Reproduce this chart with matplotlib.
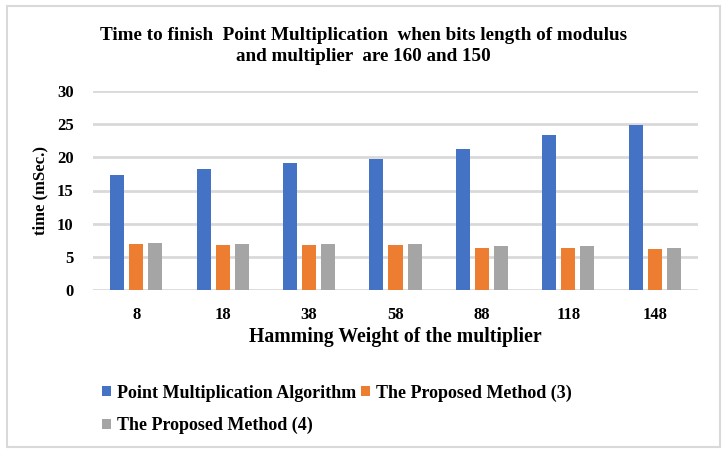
import matplotlib.pyplot as plt
import numpy as np
from matplotlib.patches import Rectangle

plt.rcParams['font.family'] = ['Liberation Serif', 'DejaVu Serif']
plt.rcParams['font.weight'] = 'bold'

# 数据
hamming = ['8', '18', '38', '58', '88', '118', '148']
point_mul = [17.3, 18.3, 19.1, 19.7, 21.3, 23.3, 24.8]
method3 = [7.0, 6.8, 6.8, 6.8, 6.4, 6.3, 6.2]
method4 = [7.1, 7.0, 7.0, 7.0, 6.7, 6.7, 6.3]
series_names = ['Point Multiplication Algorithm', 'The Proposed Method (3)', 'The Proposed Method (4)']
colors = ['#4472C4', '#ED7D31', '#A5A5A5']

fig = plt.figure(figsize=(7.28, 4.55), dpi=100)
ax = fig.add_axes([93 / 728, 1 - 290 / 455, (698 - 93) / 728, (290 - 91) / 455])

# 外框
fig.patches.append(Rectangle((7 / 728, 1 - 447 / 455), 713 / 728, 441 / 455,
                             transform=fig.transFigure, fill=False,
                             edgecolor='#D9D9D9', linewidth=1.5))

x = np.arange(len(hamming))
w = 0.162
step = 0.22
for i, (vals, name, c) in enumerate(zip([point_mul, method3, method4], series_names, colors)):
    ax.bar(x + (i - 1) * step, vals, width=w, color=c, label=name, zorder=3)

ax.set_ylim(0, 30)
ax.set_xlim(-0.5, len(hamming) - 0.5)
ax.set_yticks(np.arange(0, 31, 5))
ax.set_xticks(x)
ax.set_xticklabels(hamming)
ax.yaxis.grid(True, color='#D9D9D9', linewidth=2, zorder=0)
for s in ax.spines.values():
    s.set_visible(False)
ax.tick_params(length=0, labelsize=12)
ax.tick_params(axis='x', pad=12)
ax.tick_params(axis='y', pad=14)

ax.set_ylabel('time (mSec.)', fontsize=12, fontweight='bold', labelpad=6)
ax.set_xlabel('Hamming Weight of the multiplier', fontsize=14.2, fontweight='bold', labelpad=3)

fig.text(0.499, 1 - 46 / 455, 'Time to finish  Point Multiplication  when bits length of modulus\nand multiplier  are 160 and 150',
         ha='center', va='center', fontsize=13.8, fontweight='bold', linespacing=1.35)

# 图例按行排列
handles, labels = ax.get_legend_handles_labels()
order = [0, 2, 1]
fig.legend([handles[k] for k in order], [labels[k] for k in order], loc='upper left',
           bbox_to_anchor=(86 / 728, 1 - 368 / 455),
           ncol=2, frameon=False, fontsize=13, handlelength=0.5, handleheight=0.5,
           handletextpad=0.3, columnspacing=0.3, labelspacing=0.85)

fig.savefig('out.png', dpi=100)
